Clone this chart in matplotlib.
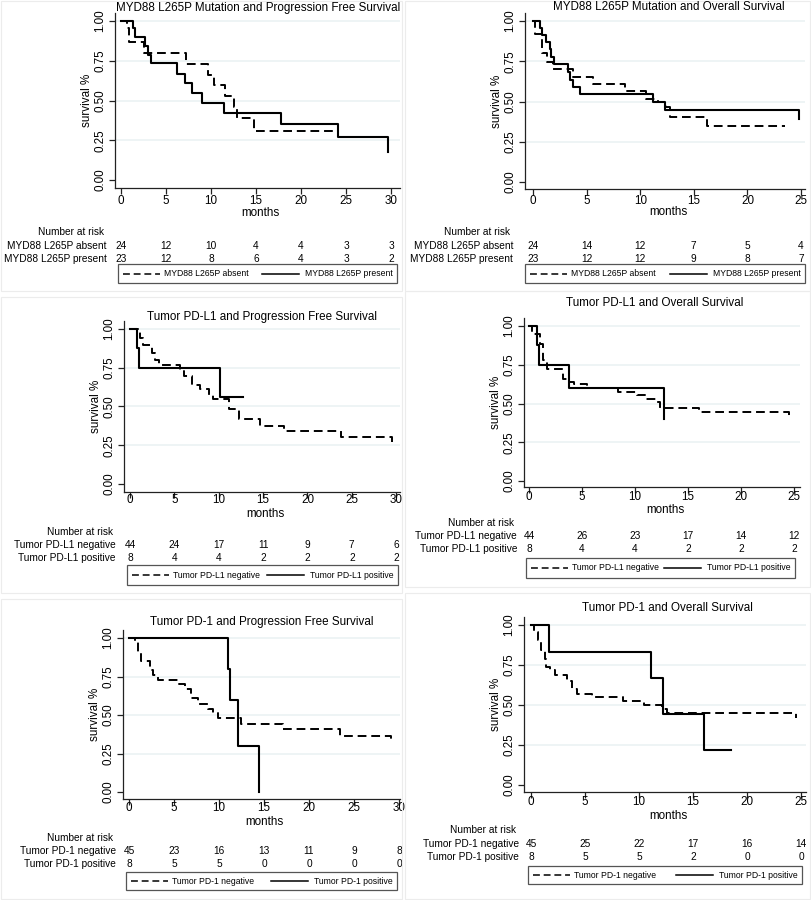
import matplotlib
matplotlib.use("Agg")
import matplotlib.pyplot as plt
from matplotlib.transforms import blended_transform_factory
from matplotlib.lines import Line2D
from matplotlib.patches import Rectangle

plt.rcParams['font.family'] = ['Liberation Sans', 'DejaVu Sans']

W, H = 811, 900

# ---------------- data ----------------
# Panel 1: MYD88 L265P and PFS
p1_title = "MYD88 L265P Mutation and Progression Free Survival"
p1_groups = ["MYD88 L265P absent", "MYD88 L265P present"]
p1_absent_t = [0, 0.7, 0.9, 2.5, 7.2, 9.7, 10.3, 11.6, 12.5, 12.9, 14.8, 24.1]
p1_absent_s = [1, 0.958, 0.87, 0.797, 0.73, 0.66, 0.595, 0.528, 0.46, 0.388, 0.31, 0.31]
p1_present_t = [0, 1.3, 1.5, 2.7, 3.0, 3.3, 6.2, 7.1, 7.9, 9.0, 11.4, 17.8, 24.1, 29.7]
p1_present_s = [1, 0.957, 0.90, 0.845, 0.786, 0.734, 0.667, 0.608, 0.549, 0.486, 0.423, 0.354, 0.268, 0.174]
p1_ticks = [0, 5, 10, 15, 20, 25, 30]
p1_risk_absent = [24, 12, 10, 4, 4, 3, 3]
p1_risk_present = [23, 12, 8, 6, 4, 3, 2]

# Panel 2: MYD88 L265P and OS
p2_title = "MYD88 L265P Mutation and Overall Survival"
p2_groups = ["MYD88 L265P absent", "MYD88 L265P present"]
p2_absent_t = [0, 0.2, 0.85, 1.3, 1.9, 3.7, 5.6, 8.6, 10.5, 11.7, 12.45, 12.8, 16.2, 23.5]
p2_absent_s = [1, 0.92, 0.80, 0.747, 0.70, 0.65, 0.606, 0.564, 0.515, 0.50, 0.463, 0.405, 0.349, 0.349]
p2_present_t = [0, 0.62, 0.84, 1.24, 1.55, 1.7, 2.0, 3.3, 3.47, 3.7, 4.4, 11.2, 12.3, 24.8]
p2_present_s = [1, 0.954, 0.913, 0.867, 0.824, 0.774, 0.730, 0.685, 0.633, 0.59, 0.546, 0.498, 0.446, 0.394]
p2_ticks = [0, 5, 10, 15, 20, 25]
p2_risk_absent = [24, 14, 12, 7, 5, 4]
p2_risk_present = [23, 12, 12, 9, 8, 7]

# Panel 3: Tumor PD-L1 and PFS
p3_title = "Tumor PD-L1 and Progression Free Survival"
p3_groups = ["Tumor PD-L1 negative", "Tumor PD-L1 positive"]
p3_neg_t = [0, 1.13, 1.43, 2.44, 2.8, 3.3, 5.64, 6.1, 7.0, 7.9, 8.9, 9.4, 11.2, 12.3, 14.66, 17.4, 23.8, 29.5]
p3_neg_s = [1, 0.94, 0.894, 0.845, 0.80, 0.77, 0.73, 0.70, 0.64, 0.61, 0.575, 0.547, 0.487, 0.418, 0.375, 0.345, 0.30, 0.27]
p3_pos_t = [0, 0.75, 1.0, 10.15, 12.7]
p3_pos_s = [1, 0.875, 0.75, 0.56, 0.56]
p3_ticks = [0, 5, 10, 15, 20, 25, 30]
p3_risk_neg = [44, 24, 17, 11, 9, 7, 6]
p3_risk_pos = [8, 4, 4, 2, 2, 2, 2]

# Panel 4: Tumor PD-L1 and OS
p4_title = "Tumor PD-L1 and Overall Survival"
p4_groups = ["Tumor PD-L1 negative", "Tumor PD-L1 positive"]
p4_neg_t = [0, 0.25, 1.04, 1.3, 1.67, 3.2, 3.55, 4.2, 5.5, 8.4, 10.2, 11.0, 12.0, 12.4, 16.0, 24.55]
p4_neg_s = [1, 0.95, 0.886, 0.78, 0.725, 0.66, 0.64, 0.624, 0.60, 0.574, 0.553, 0.53, 0.51, 0.473, 0.445, 0.41]
p4_pos_t = [0, 0.72, 0.94, 3.77, 12.7]
p4_pos_s = [1, 0.875, 0.75, 0.60, 0.40]
p4_ticks = [0, 5, 10, 15, 20, 25]
p4_risk_neg = [44, 26, 23, 17, 14, 12]
p4_risk_pos = [8, 4, 4, 2, 2, 2]

# Panel 5: Tumor PD-1 and PFS
p5_title = "Tumor PD-1 and Progression Free Survival"
p5_groups = ["Tumor PD-1 negative", "Tumor PD-1 positive"]
p5_neg_t = [0, 0.63, 1.0, 1.37, 2.3, 2.67, 3.2, 5.6, 6.2, 6.9, 7.7, 8.8, 9.3, 9.9, 12.5, 17.1, 23.4, 29.15]
p5_neg_s = [1, 0.975, 0.91, 0.85, 0.79, 0.76, 0.73, 0.70, 0.666, 0.61, 0.57, 0.54, 0.51, 0.478, 0.44, 0.407, 0.366, 0.334]
p5_pos_t = [0, 11.0, 11.2, 12.1, 14.4]
p5_pos_s = [1, 0.80, 0.60, 0.30, 0.0]
p5_ticks = [0, 5, 10, 15, 20, 25, 30]
p5_risk_neg = [45, 23, 16, 13, 11, 9, 8]
p5_risk_pos = [8, 5, 5, 0, 0, 0, 0]

# Panel 6: Tumor PD-1 and OS
p6_title = "Tumor PD-1 and Overall Survival"
p6_groups = ["Tumor PD-1 negative", "Tumor PD-1 positive"]
p6_neg_t = [0, 0.3, 0.66, 0.97, 1.27, 1.42, 1.72, 2.18, 3.3, 3.84, 4.3, 5.65, 8.5, 10.5, 12.15, 12.6, 24.5]
p6_neg_s = [1, 0.954, 0.908, 0.845, 0.79, 0.74, 0.72, 0.685, 0.647, 0.60, 0.57, 0.547, 0.522, 0.497, 0.476, 0.449, 0.42]
p6_pos_t = [0, 1.63, 11.1, 12.24, 16.0, 18.5]
p6_pos_s = [1, 0.833, 0.666, 0.443, 0.22, 0.22]
p6_ticks = [0, 5, 10, 15, 20, 25]
p6_risk_neg = [45, 25, 22, 17, 16, 14]
p6_risk_pos = [8, 5, 5, 2, 0, 0]

# ---------------- layout (pixels) ----------------
panels = [
    dict(title=p1_title, groups=p1_groups, dash=(p1_absent_t, p1_absent_s), solid=(p1_present_t, p1_present_s),
         ticks=p1_ticks, risk=(p1_risk_absent, p1_risk_present),
         box=(115, 13, 400, 188), x0=121, xs=9.0, y0=180, ys=159,
         title_y=8, title_x=258, tick_y=201, months_y=213, nar_y=232, rows_y=(246, 259),
         leg=(118, 264, 397, 283), label_right=107),
    dict(title=p2_title, groups=p2_groups, dash=(p2_absent_t, p2_absent_s), solid=(p2_present_t, p2_present_s),
         ticks=p2_ticks, risk=(p2_risk_absent, p2_risk_present),
         box=(525, 13, 805, 189), x0=533, xs=10.72, y0=182, ys=161,
         title_y=7, title_x=669, tick_y=201, months_y=212, nar_y=232, rows_y=(246, 259),
         leg=(525, 264, 805, 283), label_right=513),
    dict(title=p3_title, groups=p3_groups, dash=(p3_neg_t, p3_neg_s), solid=(p3_pos_t, p3_pos_s),
         ticks=p3_ticks, risk=(p3_risk_neg, p3_risk_pos),
         box=(124, 321, 400, 492), x0=130, xs=8.87, y0=484, ys=155,
         title_y=317, title_x=262, tick_y=500, months_y=514, nar_y=532, rows_y=(545, 558),
         leg=(127, 565, 398, 585), label_right=116),
    dict(title=p4_title, groups=p4_groups, dash=(p4_neg_t, p4_neg_s), solid=(p4_pos_t, p4_pos_s),
         ticks=p4_ticks, risk=(p4_risk_neg, p4_risk_pos),
         box=(524, 318, 800, 487), x0=529, xs=10.6, y0=481, ys=155,
         title_y=303, title_x=655, tick_y=497, months_y=510, nar_y=523, rows_y=(536, 549),
         leg=(526, 558, 795, 578), label_right=517),
    dict(title=p5_title, groups=p5_groups, dash=(p5_neg_t, p5_neg_s), solid=(p5_pos_t, p5_pos_s),
         ticks=p5_ticks, risk=(p5_risk_neg, p5_risk_pos),
         box=(123, 630, 400, 799), x0=129, xs=9.0, y0=792, ys=154,
         title_y=622, title_x=262, tick_y=808, months_y=822, nar_y=838, rows_y=(851, 864),
         leg=(126, 872, 397, 890), label_right=116),
    dict(title=p6_title, groups=p6_groups, dash=(p6_neg_t, p6_neg_s), solid=(p6_pos_t, p6_pos_s),
         ticks=p6_ticks, risk=(p6_risk_neg, p6_risk_pos),
         box=(524, 617, 806, 792), x0=531, xs=10.8, y0=785, ys=160,
         title_y=608, title_x=667, tick_y=802, months_y=816, nar_y=830, rows_y=(844, 857),
         leg=(528, 866, 802, 884), label_right=519),
]

fig = plt.figure(figsize=(W / 100, H / 100), dpi=100)
fig.patch.set_facecolor('white')
renderer = fig.canvas.get_renderer()


def fx(px):
    return px / W


def fy(py):
    return 1 - py / H


# faint panel frames
for (l, t, r, b) in [(1, 1, 402, 291), (405, 1, 810, 291), (1, 297, 402, 593),
                     (405, 291, 810, 587), (1, 599, 402, 899), (405, 593, 810, 899)]:
    fig.patches.append(Rectangle((fx(l), fy(b)), fx(r) - fx(l), fy(t) - fy(b),
                                 transform=fig.transFigure, fill=False,
                                 edgecolor='#ececec', linewidth=0.8))

dark = '#222222'
DASH = (0, (4.5, 2.5))
FS_TITLE = 8.4
FS_TICK = 8.4
FS_RISK = 7.3
FS_LEG = 6.2
for p in panels:
    l, t, r, b = p['box']
    ax = fig.add_axes([fx(l), fy(b), fx(r) - fx(l), fy(t) - fy(b)])
    ax.set_xlim((l - p['x0']) / p['xs'], (r - p['x0']) / p['xs'])
    ax.set_ylim((p['y0'] - b) / p['ys'], (p['y0'] - t) / p['ys'])
    for s in ['top', 'right']:
        ax.spines[s].set_visible(False)
    for s in ['left', 'bottom']:
        ax.spines[s].set_color(dark)
        ax.spines[s].set_linewidth(0.9)
    yt = [0, 0.25, 0.5, 0.75, 1.0]
    ax.set_yticks(yt)
    ax.set_yticklabels([f"{v:.2f}" for v in yt], rotation=90, va='center')
    ax.set_xticks(p['ticks'])
    ax.set_xticklabels([])
    ax.tick_params(direction='out', length=4, width=0.9, color=dark, labelsize=FS_TICK, pad=2,
                   labelcolor='black')
    for v in yt[1:]:
        ax.axhline(v, color='#e9f1f2', linewidth=1.1, zorder=0)
    ax.set_ylabel("survival %", fontsize=FS_TICK)
    ax.yaxis.set_label_coords(-22 / (r - l), 0.5)

    td, sd = p['dash']
    ts, ss = p['solid']
    ax.step(td, sd, where='post', color='black', linewidth=1.4, linestyle=DASH)
    ax.step(ts, ss, where='post', color='black', linewidth=1.5, linestyle='-')

    trans = blended_transform_factory(ax.transData, fig.transFigure)
    for tk in p['ticks']:
        ax.text(tk, fy(p['tick_y']), str(tk), transform=trans, ha='center', va='center', fontsize=FS_TICK)
    fig.text(fx(p['title_x']), fy(p['title_y']), p['title'], ha='center', va='center', fontsize=FS_TITLE)
    fig.text(fx((l + r) / 2 + 3), fy(p['months_y']), "months", ha='center', va='center', fontsize=FS_TICK)
    fig.text(fx(p['label_right'] - 3), fy(p['nar_y']), "Number at risk", ha='right', va='center', fontsize=FS_RISK)
    for gname, row, yrow in zip(p['groups'], p['risk'], p['rows_y']):
        fig.text(fx(p['label_right']), fy(yrow), gname, ha='right', va='center', fontsize=FS_RISK)
        for tk, n in zip(p['ticks'], row):
            ax.text(tk, fy(yrow), str(n), transform=trans, ha='center', va='center', fontsize=FS_RISK)

    # manual legend box
    ll, lt, lr, lb = p['leg']
    fig.patches.append(Rectangle((fx(ll), fy(lb)), fx(lr) - fx(ll), fy(lt) - fy(lb),
                                 transform=fig.transFigure, fill=False,
                                 edgecolor='#555555', linewidth=0.9))
    ym = fy((lt + lb) / 2)
    x1a, x1b = ll + 5, ll + 42
    fig.lines.append(Line2D([fx(x1a), fx(x1b)], [ym, ym], transform=fig.transFigure,
                            color='black', linewidth=1.1, linestyle=DASH))
    fig.text(fx(x1b + 4), ym, p['groups'][0], ha='left', va='center', fontsize=FS_LEG)
    t2 = fig.text(fx(lr - 4), ym, p['groups'][1], ha='right', va='center', fontsize=FS_LEG)
    ext = t2.get_window_extent(renderer=renderer)
    x2b = ext.x0 - 6
    x2a = x2b - 37
    fig.lines.append(Line2D([fx(x2a), fx(x2b)], [ym, ym], transform=fig.transFigure,
                            color='black', linewidth=1.1, linestyle='-'))

fig.savefig("out.png", dpi=100, facecolor='white')
